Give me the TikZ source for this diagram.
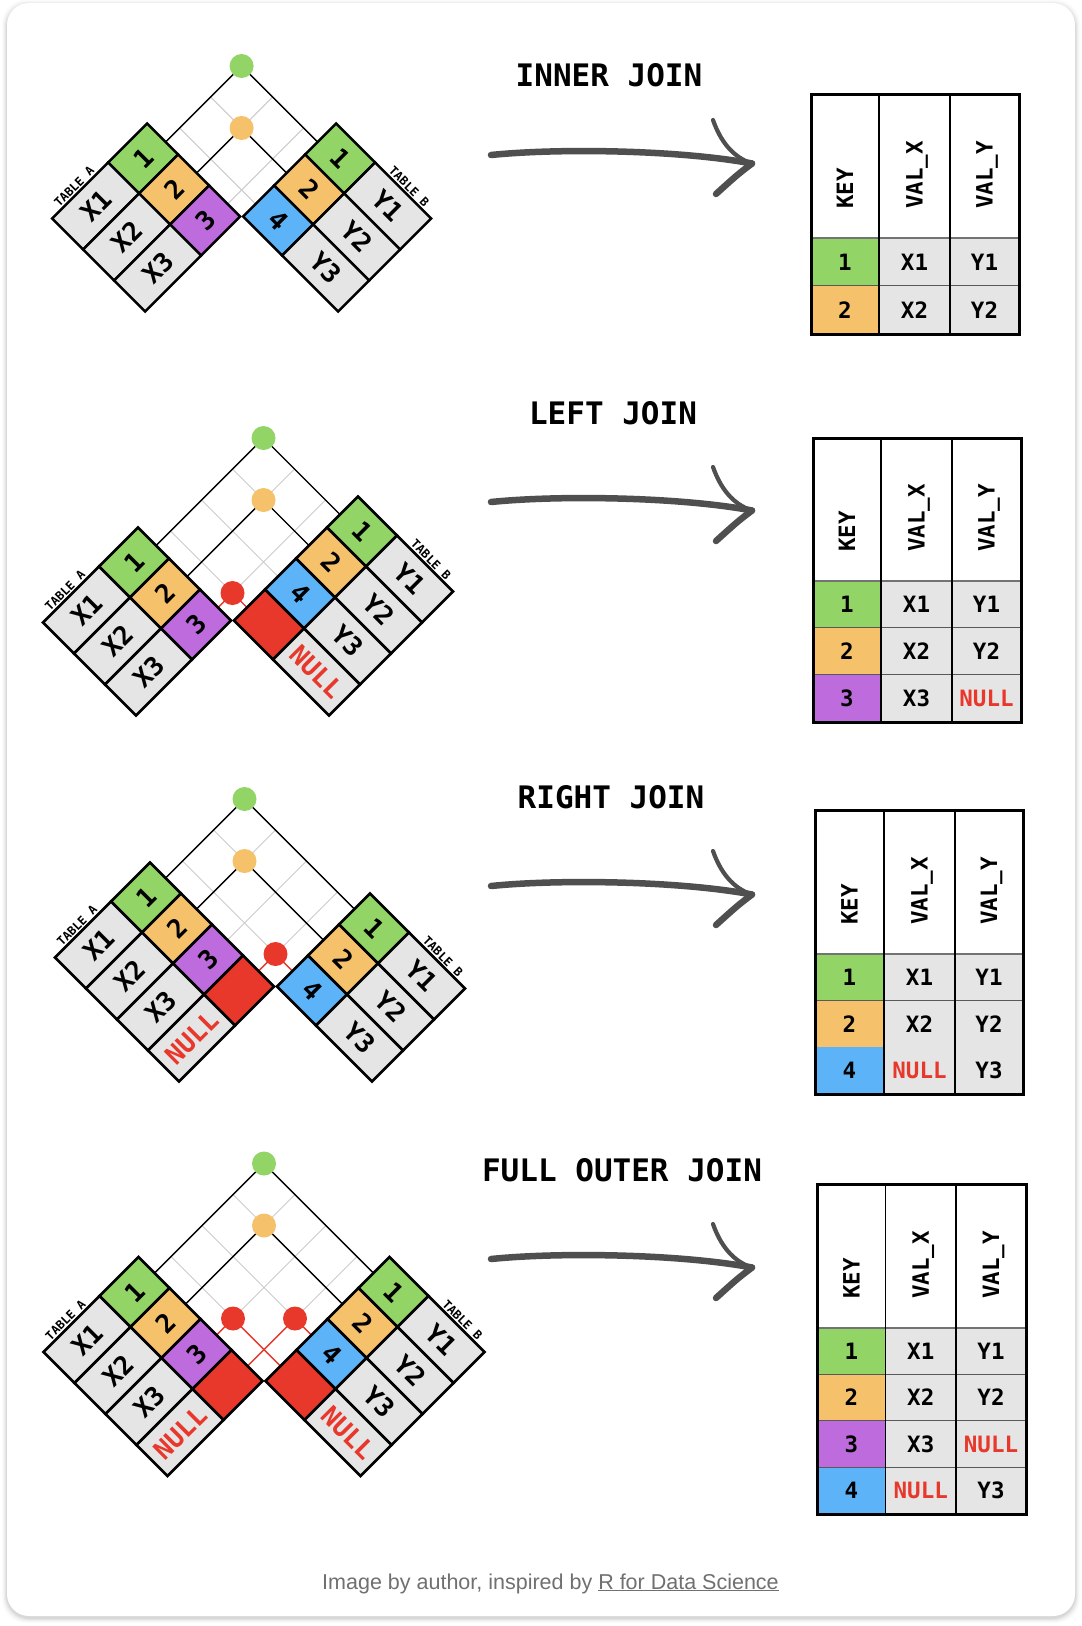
\documentclass[tikz,border=0pt]{standalone}
\usepackage{fontspec}
\newfontfamily\monofont{DejaVu Sans Mono}
\newfontfamily\capfont{Liberation Sans}
\usetikzlibrary{calc}
\definecolor{kgreen}{HTML}{92D566}
\definecolor{korange}{HTML}{F5C16B}
\definecolor{kpurple}{HTML}{BE6BDE}
\definecolor{kblue}{HTML}{5DB3F7}
\definecolor{kred}{HTML}{E8372B}
\definecolor{cellgray}{HTML}{E5E5E5}
\definecolor{gridgray}{HTML}{CCCCCC}
\definecolor{arrowgray}{HTML}{4F4F4F}
\definecolor{capgray}{HTML}{707070}

\def\rr{31}
\def\gp{1.5}
\def\kdep{39}
\def\tdep{95}
\def\hoff{0}

% grid of thin grey lines
\newcommand{\jgrid}[2]{%
  \foreach \i in {1,...,#1} {
    \pgfmathsetmacro{\qa}{(#1-\i+0.5)*\rr}
    \pgfmathsetmacro{\qb}{(#2-0.5)*\rr}
    \draw[jgridline] ({-\gp-\qa+\hoff},{-\qa+\hoff}) -- ({\qb-\qa},{-\gp-\qa-\qb+2*\hoff});
  }
  \foreach \j in {1,...,#2} {
    \pgfmathsetmacro{\qb}{(#2-\j+0.5)*\rr}
    \pgfmathsetmacro{\qa}{(#1-0.5)*\rr}
    \draw[jgridline] ({\gp+\qb-\hoff},{-\qb+\hoff}) -- ({\qb-\qa},{-\gp-\qa-\qb+2*\hoff});
  }
}
% match: prefix, nA, nB, i, j, dot colour, line colour
\newcommand{\jmatch}[7]{%
  \pgfmathsetmacro{\qa}{(#2-#4+0.5)*\rr}
  \pgfmathsetmacro{\qb}{(#3-#5+0.5)*\rr}
  \coordinate (#1am#4#5) at ({-\gp-\qa+\hoff},{-\qa+\hoff});
  \coordinate (#1bm#4#5) at ({\gp+\qb-\hoff},{-\qb+\hoff});
  \coordinate (#1p#4#5) at ({\qb-\qa},{-\gp-\qa-\qb+2*\hoff});
  \draw[jmatchline, draw=#7] (#1am#4#5) -- (#1p#4#5) -- (#1bm#4#5);
  \node[jdot, fill=#6] (#1dot#4#5) at (#1p#4#5) {};
}
% table A: prefix, n, list key/value/keycolour/valuecolour
\newcommand{\Atable}[3]{%
  \foreach \kk/\vv/\cc/\tc [count=\i] in {#3} {
    \pgfmathsetmacro{\qa}{(#2-\i)*\rr}
    \pgfmathsetmacro{\qb}{(#2-\i+1)*\rr}
    \pgfmathsetmacro{\qm}{(#2-\i+0.5)*\rr}
    \filldraw[jcell, fill=\cc] ({-\gp-\qa},{-\qa}) -- ({-\gp-\qb},{-\qb}) -- ({-\gp-\qb-\kdep},{-\qb+\kdep}) -- ({-\gp-\qa-\kdep},{-\qa+\kdep}) -- cycle;
    \filldraw[jcell, fill=cellgray] ({-\gp-\qa-\kdep},{-\qa+\kdep}) -- ({-\gp-\qb-\kdep},{-\qb+\kdep}) -- ({-\gp-\qb-\tdep},{-\qb+\tdep}) -- ({-\gp-\qa-\tdep},{-\qa+\tdep}) -- cycle;
    \node[dtext, rotate=45] (#1ak\i) at ({-\gp-\qm-\kdep/2},{-\qm+\kdep/2}) {\kk};
    \node[dtext, rotate=45, text=\tc] (#1av\i) at ({-\gp-\qm-(\kdep+\tdep)/2},{-\qm+(\kdep+\tdep)/2}) {\vv};
  }
  \node[tabtext, rotate=45] (#1alabel) at ({-\gp-(#2*\rr+5)-(\tdep-27)},{-(#2*\rr+5)+(\tdep-27)}) {TABLE A};
}
\newcommand{\Btable}[3]{%
  \foreach \kk/\vv/\cc/\tc [count=\i] in {#3} {
    \pgfmathsetmacro{\qa}{(#2-\i)*\rr}
    \pgfmathsetmacro{\qb}{(#2-\i+1)*\rr}
    \pgfmathsetmacro{\qm}{(#2-\i+0.5)*\rr}
    \filldraw[jcell, fill=\cc] ({\gp+\qa},{-\qa}) -- ({\gp+\qb},{-\qb}) -- ({\gp+\qb+\kdep},{-\qb+\kdep}) -- ({\gp+\qa+\kdep},{-\qa+\kdep}) -- cycle;
    \filldraw[jcell, fill=cellgray] ({\gp+\qa+\kdep},{-\qa+\kdep}) -- ({\gp+\qb+\kdep},{-\qb+\kdep}) -- ({\gp+\qb+\tdep},{-\qb+\tdep}) -- ({\gp+\qa+\tdep},{-\qa+\tdep}) -- cycle;
    \node[dtext, rotate=-45] (#1bk\i) at ({\gp+\qm+\kdep/2},{-\qm+\kdep/2}) {\kk};
    \node[dtext, rotate=-45, text=\tc] (#1bv\i) at ({\gp+\qm+(\kdep+\tdep)/2},{-\qm+(\kdep+\tdep)/2}) {\vv};
  }
  \node[tabtext, rotate=-45] (#1blabel) at ({\gp+(#2*\rr+5)+(\tdep-27)},{-(#2*\rr+5)+(\tdep-27)}) {TABLE B};
}
% result table
\def\setxx#1,#2,#3,#4\relax{\def\xa{#1}\def\xb{#2}\def\xc{#3}\def\xd{#4}}
\def\setyy#1,#2,#3,#4\relax{\def\ya{#1}\def\yb{#2}\def\yc{#3}\def\nrow{#4}}
\newcommand{\rtable}[4]{%
  \setxx#2\relax \setyy#3\relax
  \pgfmathsetmacro{\rowh}{(\yc-\yb)/\nrow}
  \foreach \kk/\cc/\vx/\cx/\vy/\cy [count=\i] in {#4} {
    \pgfmathsetmacro{\rowa}{\yb+(\i-1)*\rowh}
    \pgfmathsetmacro{\rowb}{\yb+\i*\rowh}
    \pgfmathsetmacro{\rowm}{\yb+(\i-0.5)*\rowh}
    \fill[\cc] (\xa,\rowa) rectangle (\xb,\rowb);
    \fill[cellgray] (\xb,\rowa) rectangle (\xd,\rowb);
    \node[rtext] (#1k\i) at ({(\xa+\xb)/2},\rowm) {\kk};
    \node[rtext, text=\cx] (#1x\i) at ({(\xb+\xc)/2},\rowm) {\vx};
    \node[rtext, text=\cy] (#1y\i) at ({(\xc+\xd)/2},\rowm) {\vy};
    \draw[rowline] (\xa,\rowb) -- (\xd,\rowb);
  }
  \draw[headline] (\xa,\yb) -- (\xd,\yb);
  \draw[colline] (\xb,\ya) -- (\xb,\yc);
  \draw[colline] (\xc,\ya) -- (\xc,\yc);
  \draw[touter] (\xa,\ya) rectangle (\xd,\yc);
  \node[rtext, rotate=90, anchor=west] (#1hk) at ({(\xa+\xb)/2},{\yb-29}) {KEY};
  \node[rtext, rotate=90, anchor=west] (#1hx) at ({(\xb+\xc)/2},{\yb-29}) {VAL\_X};
  \node[rtext, rotate=90, anchor=west] (#1hy) at ({(\xc+\xd)/2},{\yb-29}) {VAL\_Y};
}
% sketchy arrow
\newcommand{\sarrow}[2]{%
  \coordinate (#1s) at (491,#2);
  \coordinate (#1t) at (752,{#2+8.5});
  \coordinate (#1u) at (713,{#2-35});
  \coordinate (#1l) at (716,{#2+39});
  \draw[astroke, line width=6.5pt] (#1s) .. controls (560,{#2-7}) and (680,{#2-5}) .. (#1t);
  \draw[astroke, line width=4.2pt] (#1u) .. controls (720,{#2-15}) and (732,{#2+2}) .. (#1t);
  \draw[astroke, line width=6.5pt] (#1t) .. controls (737,{#2+20}) .. (#1l);
}

\begin{document}
\begin{tikzpicture}[x=1pt,y=-1pt,
  jcell/.style={draw=black, line width=2.6pt},
  jgridline/.style={draw=gridgray, line width=1pt},
  jmatchline/.style={line width=1.4pt},
  jdot/.style={circle, minimum size=24pt, inner sep=0pt, draw=none},
  dtext/.style={font=\monofont\bfseries\fontsize{26}{26}\selectfont, inner sep=0pt, text height=19pt, text depth=0pt},
  tabtext/.style={font=\monofont\bfseries\fontsize{12}{12}\selectfont, inner sep=0pt, text height=8.8pt, text depth=0pt},
  rtext/.style={font=\monofont\bfseries\fontsize{22.5}{22.5}\selectfont, inner sep=0pt, text height=16.4pt, text depth=0pt},
  jtitle/.style={font=\monofont\bfseries\fontsize{31}{31}\selectfont, inner sep=0pt, text height=22.6pt, text depth=0pt},
  rowline/.style={draw=black!65, line width=1.3pt},
  headline/.style={draw=black!55, line width=1.3pt},
  colline/.style={draw=black, line width=1.4pt},
  touter/.style={draw=black, line width=3pt},
  astroke/.style={draw=arrowgray, line cap=round, line join=round}]
\useasboundingbox (0,0) rectangle (1082,1626);
\fill[white] (0,0) rectangle (1082,1626);
% card with soft shadow
\foreach \k/\op in {5/0.015,4/0.02,3/0.03,2/0.04,1/0.05}
  \fill[black, opacity=\op, rounded corners=24pt] ({7-\k},{3-\k+2}) rectangle ({1075+\k},{1616+\k+2});
\fill[white, rounded corners=22pt] (7,3) rectangle (1075,1616);

% ---------- INNER JOIN ----------
\begin{scope}[shift={(241.6,216.5)}]
  \def\hoff{3}
  \jgrid{3}{3}
  \jmatch{d1}{3}{3}{1}{1}{kgreen}{black}
  \jmatch{d1}{3}{3}{2}{2}{korange}{black}
  \Atable{d1}{3}{1/X1/kgreen/black, 2/X2/korange/black, 3/X3/kpurple/black}
  \Btable{d1}{3}{1/Y1/kgreen/black, 2/Y2/korange/black, 4/Y3/kblue/black}
\end{scope}
\node[jtitle] (t1) at (609,75) {INNER JOIN};
\sarrow{a1}{155}
\rtable{r1}{811,879,950,1019}{94,238,334,2}{1/kgreen/X1/black/Y1/black, 2/korange/X2/black/Y2/black}

% ---------- LEFT JOIN ----------
\begin{scope}[shift={(232.5,620.5)}]
  \def\hoff{2.5}
  \jgrid{3}{4}
  \jmatch{d2}{3}{4}{1}{1}{kgreen}{black}
  \jmatch{d2}{3}{4}{2}{2}{korange}{black}
  \jmatch{d2}{3}{4}{3}{4}{kred}{kred}
  \Atable{d2}{3}{1/X1/kgreen/black, 2/X2/korange/black, 3/X3/kpurple/black}
  \Btable{d2}{4}{1/Y1/kgreen/black, 2/Y2/korange/black, 4/Y3/kblue/black, {}/NULL/kred/kred}
\end{scope}
\node[jtitle] (t2) at (613,413.5) {LEFT JOIN};
\sarrow{a2}{502}
\rtable{r2}{813,881,952,1021}{438,581,722,3}{1/kgreen/X1/black/Y1/black, 2/korange/X2/black/Y2/black, 3/kpurple/X3/black/NULL/kred}

% ---------- RIGHT JOIN ----------
\begin{scope}[shift={(275.5,986.5)}]
  \def\hoff{0}
  \jgrid{4}{3}
  \jmatch{d3}{4}{3}{1}{1}{kgreen}{black}
  \jmatch{d3}{4}{3}{2}{2}{korange}{black}
  \jmatch{d3}{4}{3}{4}{3}{kred}{kred}
  \Atable{d3}{4}{1/X1/kgreen/black, 2/X2/korange/black, 3/X3/kpurple/black, {}/NULL/kred/kred}
  \Btable{d3}{3}{1/Y1/kgreen/black, 2/Y2/korange/black, 4/Y3/kblue/black}
\end{scope}
\node[jtitle] (t3) at (611,797) {RIGHT JOIN};
\sarrow{a3}{886}
\rtable{r3}{815,884,955,1023}{810,954,1094,3}{1/kgreen/X1/black/Y1/black, 2/korange/X2/black/Y2/black, 4/kblue/NULL/kred/Y3/black}

% ---------- FULL OUTER JOIN ----------
\begin{scope}[shift={(264,1381)}]
  \def\hoff{0.5}
  \jgrid{4}{4}
  \jmatch{d4}{4}{4}{1}{1}{kgreen}{black}
  \jmatch{d4}{4}{4}{2}{2}{korange}{black}
  \jmatch{d4}{4}{4}{3}{4}{kred}{kred}
  \jmatch{d4}{4}{4}{4}{3}{kred}{kred}
  \Atable{d4}{4}{1/X1/kgreen/black, 2/X2/korange/black, 3/X3/kpurple/black, {}/NULL/kred/kred}
  \Btable{d4}{4}{1/Y1/kgreen/black, 2/Y2/korange/black, 4/Y3/kblue/black, {}/NULL/kred/kred}
\end{scope}
\node[jtitle] (t4) at (622,1170) {FULL OUTER JOIN};
\sarrow{a4}{1259}
\rtable{r4}{817.5,885.5,956,1026}{1184,1328,1514,4}{1/kgreen/X1/black/Y1/black, 2/korange/X2/black/Y2/black, 3/kpurple/X3/black/NULL/kred, 4/kblue/NULL/kred/Y3/black}

% caption
\node[anchor=base, inner sep=0pt, text=capgray, font=\capfont\fontsize{21.5}{21.5}\selectfont] (cap) at (550.5,1589) {Image by author, inspired by \underline{R for Data Science}};
\end{tikzpicture}
\end{document}
